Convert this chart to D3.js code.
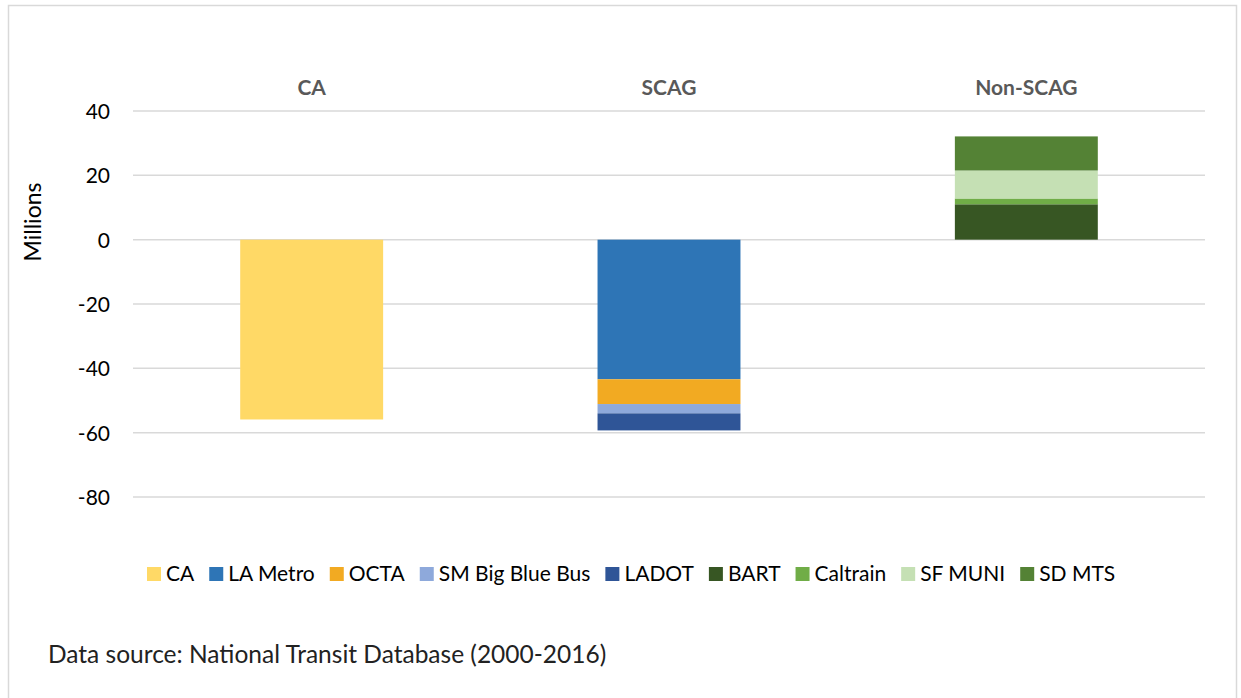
<!DOCTYPE html>
<html>
<head>
<meta charset="utf-8">
<script src="https://cdn.jsdelivr.net/npm/d3@7"></script>
<style>
  body { margin: 0; background: #fff; }
  svg { display: block; font-family: Lato, "Open Sans", sans-serif; }
</style>
</head>
<body>
<div id="chart"></div>
<script>
// groups along the x axis
var groups = ["CA", "SCAG", "Non-SCAG"];

// series (one stack segment each), values in millions per group
var seriesNames = ["CA", "LA Metro", "OCTA", "SM Big Blue Bus", "LADOT", "BART", "Caltrain", "SF MUNI", "SD MTS"];
var caValues      = [-55.9, 0, 0];
var laMetro       = [0, -43.4, 0];
var octa          = [0, -7.7, 0];
var smBigBlueBus  = [0, -2.9, 0];
var ladot         = [0, -5.3, 0];
var bart          = [0, 0, 11.0];
var caltrain      = [0, 0, 1.8];
var sfMuni        = [0, 0, 8.7];
var sdMts         = [0, 0, 10.6];
var seriesColors  = ["#FFD966", "#2E75B6", "#F2AA22", "#8EA9DB", "#2F5597", "#375623", "#70AD47", "#C5E0B4", "#548235"];

var yTicks = [40, 20, 0, -20, -40, -60, -80];
var sourceNote = "Data source: National Transit Database (2000-2016)";

var width = 1241, height = 698;

var allValues = [caValues, laMetro, octa, smBigBlueBus, ladot, bart, caltrain, sfMuni, sdMts];

// build rows for d3.stack
var rows = groups.map(function (g, i) {
    var row = {group: g};
    seriesNames.forEach(function (s, j) { row[s] = allValues[j][i]; });
    return row;
});

var svg = d3.select("#chart")
    .append("svg")
    .attr("width", width)
    .attr("height", height);

// outer chart border
svg.append("rect")
    .attr("x", 8.5).attr("y", 5.5)
    .attr("width", 1228).attr("height", 700)
    .attr("fill", "none")
    .attr("stroke", "#d9d9d9")
    .attr("stroke-width", 1.5);

var x = d3.scaleBand()
    .domain(groups)
    .range([133, 1205])
    .paddingInner(0.6)
    .paddingOuter(0.3);

var y = d3.scaleLinear()
    .domain([-80, 40])
    .range([497, 111]);

// gridlines
svg.append("g")
    .selectAll("line")
    .data(yTicks)
    .enter()
    .append("line")
    .attr("x1", 133).attr("x2", 1205)
    .attr("y1", function (d) { return y(d); })
    .attr("y2", function (d) { return y(d); })
    .attr("stroke", "#d9d9d9")
    .attr("stroke-width", 1.5);

// y axis labels (plain hyphen for negatives, like the original)
var yAxis = d3.axisLeft(y)
    .tickValues(yTicks)
    .tickFormat(function (d) { return String(d); })
    .tickSize(0)
    .tickPadding(0);
var ga = svg.append("g")
    .attr("transform", "translate(110,0)")
    .call(yAxis);
ga.select(".domain").remove();
ga.selectAll("text")
    .style("font-family", "Lato, 'Open Sans', sans-serif")
    .style("font-size", "21px")
    .attr("fill", "#000")
    .attr("dy", "0.35em");

// y axis title
svg.append("text")
    .attr("transform", "translate(41,222) rotate(-90)")
    .attr("text-anchor", "middle")
    .style("font-size", "23px")
    .attr("fill", "#000")
    .text("Millions");

// stacked bars
var stack = d3.stack()
    .keys(seriesNames)
    .offset(d3.stackOffsetDiverging);
var stacked = stack(rows);

svg.append("g")
    .selectAll("g")
    .data(stacked)
    .enter()
    .append("g")
    .attr("fill", function (d, i) { return seriesColors[i]; })
    .selectAll("rect")
    .data(function (d) { return d; })
    .enter()
    .append("rect")
    .attr("x", function (d) { return x(d.data.group); })
    .attr("width", x.bandwidth())
    .attr("y", function (d) { return y(Math.max(d[0], d[1])); })
    .attr("height", function (d) { return Math.abs(y(d[0]) - y(d[1])); });

// group headers above the plot
svg.append("g")
    .selectAll("text")
    .data(groups)
    .enter()
    .append("text")
    .attr("x", function (d) { return x(d) + x.bandwidth() / 2; })
    .attr("y", 95)
    .attr("text-anchor", "middle")
    .style("font-size", "21px")
    .style("font-weight", "bold")
    .attr("fill", "#595959")
    .text(function (d) { return d; });

// legend
var legend = svg.append("g").attr("transform", "translate(0,574)");
var lx = 147;
seriesNames.forEach(function (s, i) {
    var item = legend.append("g").attr("transform", "translate(" + lx + ",0)");
    item.append("rect")
        .attr("x", 0).attr("y", -7)
        .attr("width", 14).attr("height", 14)
        .attr("fill", seriesColors[i]);
    var t = item.append("text")
        .attr("x", 19)
        .attr("dy", "0.35em")
        .style("font-size", "21px")
        .attr("fill", "#000")
        .text(s);
    lx += 19 + t.node().getComputedTextLength() + 15;
});

// source note
svg.append("text")
    .attr("x", 48)
    .attr("y", 663)
    .style("font-size", "24.5px")
    .attr("fill", "#222")
    .text(sourceNote);
</script>
</body>
</html>
